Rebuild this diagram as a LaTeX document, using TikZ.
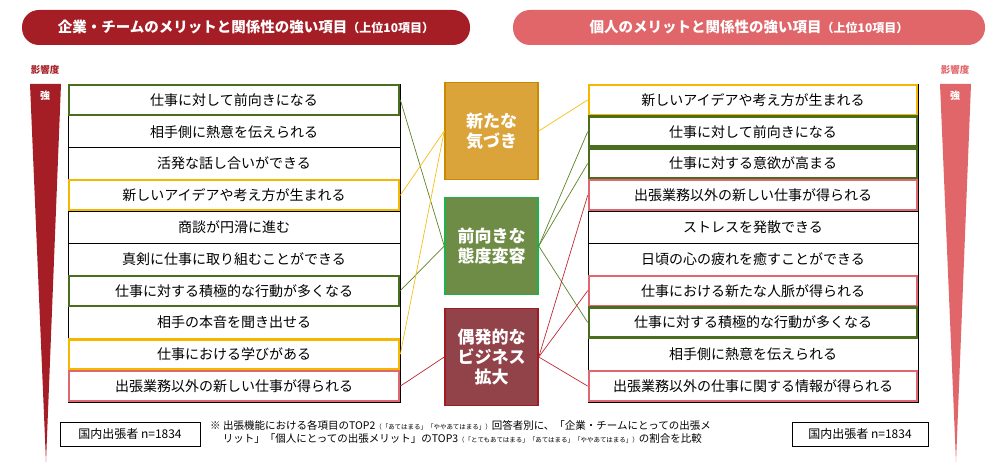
\documentclass[tikz,border=0pt]{standalone}
\usepackage{fontspec}
\setmainfont{Noto Sans CJK JP}
\begin{document}
\begin{tikzpicture}[x=1pt,y=-1pt,
  row/.style={draw=black,line width=0.6pt,minimum width=332pt,minimum height=31.8pt,inner sep=0pt,font=\fontsize{14}{16}\selectfont},
  rrow/.style={row,minimum width=330pt},
  gr/.style={draw={rgb,255:red,74;green,110;blue,30},line width=2.4pt},
  ye/.style={draw={rgb,255:red,245;green,184;blue,0},line width=2.4pt},
  pk/.style={draw={rgb,255:red,224;green,102;blue,112},line width=2.4pt},
  mid/.style={minimum width=93pt,minimum height=97pt,line width=1.5pt,text=white,align=center,font=\fontsize{17}{20}\selectfont\bfseries},
  lg/.style={draw={rgb,255:red,90;green,130;blue,40},line width=0.7pt},
  ly/.style={draw={rgb,255:red,245;green,190;blue,20},line width=0.7pt},
  lp/.style={draw={rgb,255:red,190;green,40;blue,50},line width=0.7pt}]
\useasboundingbox (0,0) rectangle (1008,470);
\definecolor{dred}{HTML}{A51E26}\definecolor{lred}{HTML}{E0666A}
% headers
\node[fill=dred,rounded corners=17pt,minimum width=448pt,minimum height=35pt,text=white,font=\fontsize{14.5}{16}\selectfont\bfseries] (hl) at (246,27.5) {企業・チームのメリットと関係性の強い項目\fontsize{12}{13}\selectfont（上位10項目）};
\node[fill=lred,rounded corners=17pt,minimum width=472pt,minimum height=35pt,text=white,font=\fontsize{14.5}{16}\selectfont\bfseries] (hr) at (749,27.5) {個人のメリットと関係性の強い項目\fontsize{12}{13}\selectfont（上位10項目）};
% wedges
\fill[dred] (30,84) -- (61,84) -- (46,462) -- cycle;
\fill[lred] (940,84) -- (971,84) -- (956,462) -- cycle;
\node[text=dred,font=\fontsize{9.5}{10}\selectfont\bfseries] (il) at (45,70) {影響度};
\node[text=lred,font=\fontsize{9.5}{10}\selectfont\bfseries] (ir) at (955,70) {影響度};
\node[text=white,font=\fontsize{10}{11}\selectfont\bfseries] (sl) at (45,96) {強};
\node[text=white,font=\fontsize{10}{11}\selectfont\bfseries] (sr) at (955,96) {強};
% left rows
\foreach \i/\t in {1/仕事に対して前向きになる,2/相手側に熱意を伝えられる,3/活発な話し合いができる,4/新しいアイデアや考え方が生まれる,5/商談が円滑に進む,6/真剣に仕事に取り組むことができる,7/仕事に対する積極的な行動が多くなる,8/相手の本音を聞き出せる,9/仕事における学びがある,10/出張業務以外の新しい仕事が得られる}
  \node[row] (L\i) at (234,{84+31.8*(\i-0.5)}) {\t};
\foreach \i/\t in {1/新しいアイデアや考え方が生まれる,2/仕事に対して前向きになる,3/仕事に対する意欲が高まる,4/出張業務以外の新しい仕事が得られる,5/ストレスを発散できる,6/日頃の心の疲れを癒すことができる,7/仕事における新たな人脈が得られる,8/仕事に対する積極的な行動が多くなる,9/相手側に熱意を伝えられる,10/出張業務以外の仕事に関する情報が得られる}
  \node[rrow] (R\i) at (753,{84+31.8*(\i-0.5)}) {\t};
% highlights
\foreach \n/\s in {L1/gr,L4/ye,L7/gr,L9/ye,L10/pk,R1/ye,R2/gr,R3/gr,R4/pk,R7/pk,R8/gr,R10/pk}
  \draw[\s] ([xshift=1.2pt,yshift=-1.2pt]\n.north west) rectangle ([xshift=-1.2pt,yshift=1.2pt]\n.south east);
% middle boxes
\node[mid,fill={rgb,255:red,219;green,164;blue,58},draw={rgb,255:red,201;green,138;blue,0}] (A) at (491.5,131) {新たな\\気づき};
\node[mid,fill={rgb,255:red,110;green,140;blue,69},draw={rgb,255:red,29;green,179;blue,74}] (B) at (491.5,246) {前向きな\\態度変容};
\node[mid,fill={rgb,255:red,146;green,67;blue,74},draw={rgb,255:red,160;green,28;blue,34}] (C) at (491.5,357) {偶発的な\\ビジネス\\拡大};
% connectors
\draw[lg] (L1.east) -- (B.west); \draw[lg] (L7.east) -- (B.west);
\draw[ly] (L4.east) -- (A.west); \draw[ly] (L9.east) -- (A.west);
\draw[lp] (L10.east) -- (C.west);
\draw[ly] (A.east) -- (R1.west);
\draw[lg] (B.east) -- (R2.west); \draw[lg] (B.east) -- (R3.west); \draw[lg] (B.east) -- (R8.west);
\draw[lp] (C.east) -- (R4.west); \draw[lp] (C.east) -- (R7.west); \draw[lp] (C.east) -- (R10.west);
% bottom
\node[draw=black,line width=0.8pt,minimum width=140pt,minimum height=24pt,font=\fontsize{12}{13}\selectfont] (nl) at (130,434) {国内出張者 n=1834};
\node[draw=black,line width=0.8pt,minimum width=136pt,minimum height=24pt,font=\fontsize{12}{13}\selectfont] (nr) at (860,434) {国内出張者 n=1834};
\node[anchor=north west,align=left,inner sep=0pt,font=\fontsize{10.5}{13}\selectfont] (note) at (210,420) {※ 出張機能における各項目のTOP2{\fontsize{6.5}{7}\selectfont（「あてはまる」「ややあてはまる」）}回答者別に、「企業・チームにとっての出張メ\\\hspace{1.2em}リット」「個人にとっての出張メリット」のTOP3{\fontsize{6.5}{7}\selectfont（「とてもあてはまる」「あてはまる」「ややあてはまる」）}の割合を比較};
\end{tikzpicture}
\end{document}
